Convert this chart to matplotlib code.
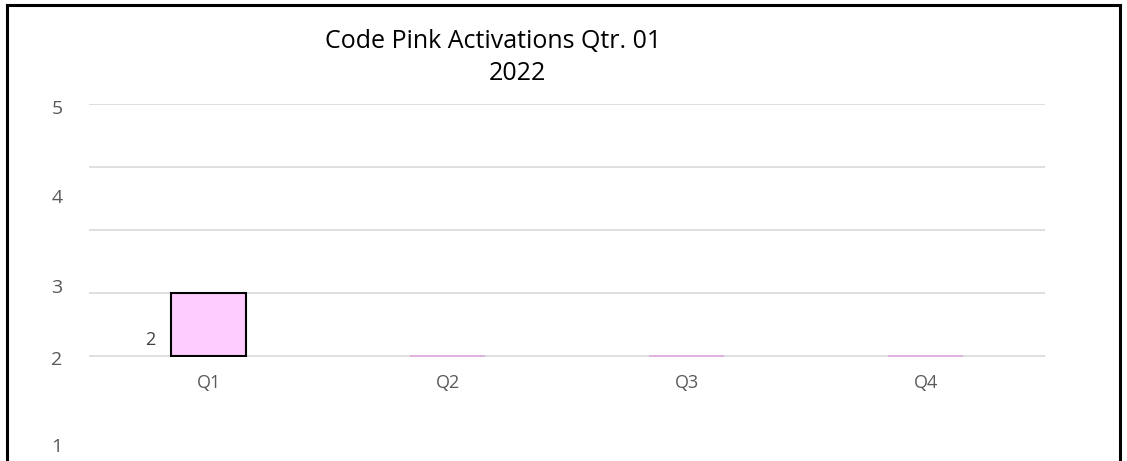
import matplotlib
matplotlib.use('Agg')
import matplotlib.pyplot as plt
import matplotlib.transforms as mtransforms
from matplotlib.lines import Line2D

# Activation counts per quarter
quarters = ['Q1', 'Q2', 'Q3', 'Q4']
activations = [2, 0, 0, 0]

# Side labels printed down the left margin and their heights (data units)
side_labels = ['5', '4', '3', '2', '1']
side_label_y = [7.85, 5.03, 2.15, -0.12, -2.88]

title_line = 'Code Pink Activations Qtr. 01'
year_line = '2022'

plt.rcParams['font.family'] = ['Open Sans', 'DejaVu Sans']

fig = plt.figure(figsize=(11.27, 4.61), dpi=100)
ax = fig.add_axes([0.079, 0.2256, 0.8483, 0.5488])

grey = '#595959'
bar_w = 0.315
xs = range(len(quarters))
for i, v in zip(xs, activations):
    if v > 0:
        ax.bar(i, v, width=bar_w, color='#FFCCFF', edgecolor='black', linewidth=1.5, zorder=3)
        ax.text(i - bar_w / 2 - 0.065, v * 0.25, str(v), ha='right', va='center',
                fontsize=13, color='#404040')
    else:
        ax.bar(i, v, width=bar_w, color='#FFCCFF', edgecolor='#E0A8E0', linewidth=1.2, zorder=3)

ax.set_xlim(-0.5, 3.5)
ax.set_ylim(-0.03, 8)
ax.set_yticks([0, 2, 4, 6, 8])
ax.yaxis.grid(True, color='#D9D9D9', linewidth=1.2)
ax.set_axisbelow(True)
ax.tick_params(axis='y', left=False, labelleft=False)
ax.tick_params(axis='x', bottom=False, pad=9, labelsize=13, labelcolor=grey)
ax.set_xticks(list(xs))
ax.set_xticklabels(quarters)
for s in ax.spines.values():
    s.set_visible(False)

# left-margin labels: x in figure coords, y in data coords
side_tf = mtransforms.blended_transform_factory(fig.transFigure, ax.transData)
for lab, y in zip(side_labels, side_label_y):
    ax.text(57 / 1127, y, lab, transform=side_tf, fontsize=14,
            color=grey, ha='center', va='center', clip_on=False)

fig.text(493 / 1127, 1 - 41 / 461, title_line, ha='center', va='center',
         fontsize=18, color='black')
fig.text(517 / 1127, 1 - 73 / 461, year_line, ha='center', va='center',
         fontsize=18, color='black')

# frame around the chart (bottom edge is cut off)
lx, rx, ty = 7 / 1127, 1120 / 1127, 1 - 5 / 461
for xd, yd in [([lx, lx], [0, ty]), ([lx, rx], [ty, ty]), ([rx, rx], [ty, 0])]:
    fig.add_artist(Line2D(xd, yd, color='black', linewidth=2.2, transform=fig.transFigure))

fig.savefig('out.png', dpi=100)
